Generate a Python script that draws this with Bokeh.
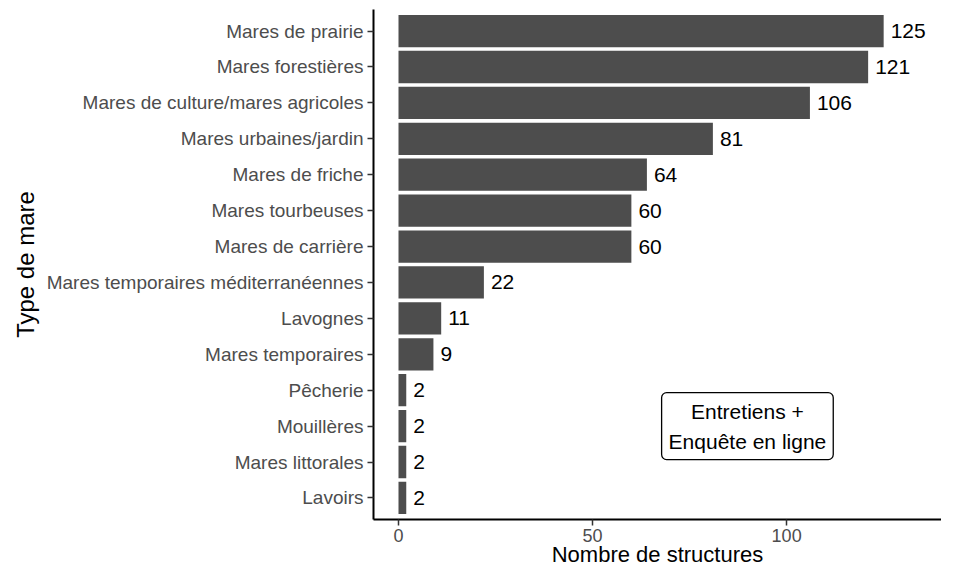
from bokeh.plotting import figure
from bokeh.models import Range1d, FactorRange, Label, ColumnDataSource
from bokeh.embed import file_html
from bokeh.resources import INLINE

categories = ["Mares de prairie", "Mares forestières", "Mares de culture/mares agricoles",
              "Mares urbaines/jardin", "Mares de friche", "Mares tourbeuses", "Mares de carrière",
              "Mares temporaires méditerranéennes", "Lavognes", "Mares temporaires",
              "Pêcherie", "Mouillères", "Mares littorales", "Lavoirs"]
counts = [125, 121, 106, 81, 64, 60, 60, 22, 11, 9, 2, 2, 2, 2]
x_ticks = [0, 50, 100]

FONT = "Liberation Sans"

factors = list(reversed(categories))
p = figure(width=941, height=569, output_backend="svg", toolbar_location=None,
           y_range=FactorRange(factors=factors, range_padding=0.1, range_padding_units="absolute"),
           x_range=Range1d(-6.44, 139.9),
           min_border_left=373, min_border_right=0, min_border_top=9, min_border_bottom=48)

src = ColumnDataSource(dict(cat=categories, n=counts, lab=[str(c) for c in counts]))
p.hbar(y="cat", right="n", left=0, height=0.9, source=src, fill_color="#4d4d4d", line_color=None)
p.text(x="n", y="cat", text="lab", source=src, x_offset=7, text_align="left", text_baseline="middle",
       text_font_size="21px", text_color="black", text_font={"value": FONT})

box = Label(x=89.9, y=2.5, text="Entretiens +\nEnquête en ligne", text_align="center",
            text_baseline="middle", text_font_size="21px", text_font=FONT, text_color="black",
            text_line_height=1.3,
            border_line_color="black", border_line_width=1.3, background_fill_color="white",
            padding=7, border_radius=5)
p.add_layout(box)

p.grid.visible = False
p.outline_line_color = None
p.background_fill_color = "white"
p.border_fill_color = "white"

for ax in (p.xaxis[0], p.yaxis[0]):
    ax.axis_line_color = "black"
    ax.axis_line_width = 2
    ax.major_tick_line_color = "#333333"
    ax.major_tick_line_width = 1.5
    ax.major_tick_out = 6
    ax.major_tick_in = 0
    ax.minor_tick_line_color = None
    ax.major_label_text_font = FONT
    ax.major_label_text_color = "#4d4d4d"
    ax.axis_label_text_font = FONT
    ax.axis_label_text_font_style = "normal"
    ax.axis_label_text_color = "black"

p.xaxis.major_label_text_font_size = "18px"
p.yaxis.major_label_text_font_size = "19px"
p.xaxis.ticker = x_ticks
p.xaxis.major_label_standoff = 3
p.yaxis.major_label_standoff = 4
p.xaxis.axis_label = "Nombre de structures"
p.xaxis.axis_label_text_font_size = "22px"
p.xaxis.axis_label_standoff = -3
p.yaxis.axis_label = "Type de mare"
p.yaxis.axis_label_text_font_size = "24px"
p.yaxis.axis_label_standoff = 5

open("out.html", "w").write(file_html(p, INLINE))
